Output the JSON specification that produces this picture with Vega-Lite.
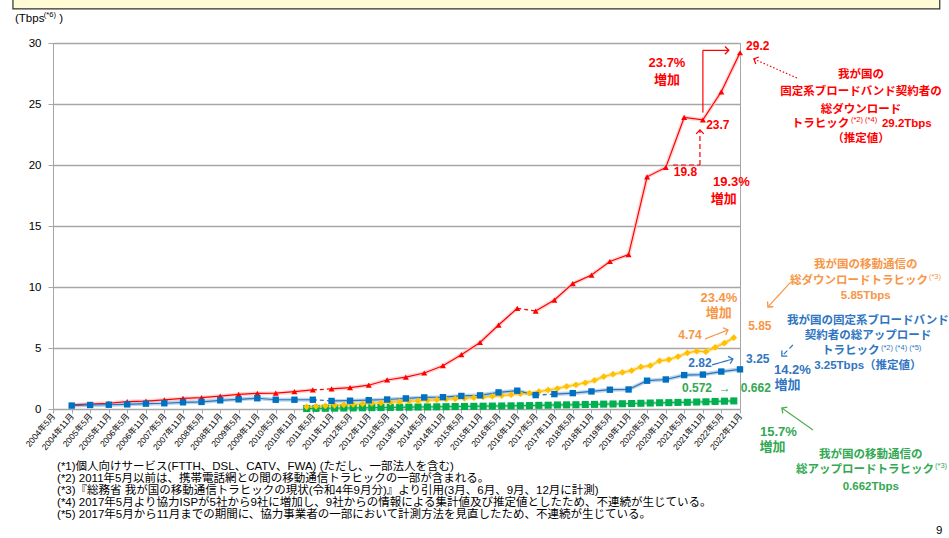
{
"$schema": "https://vega.github.io/schema/vega-lite/v6.json",
"width": 687, "height": 366,
"autosize": {"type": "none"},
"padding": {"left": 53, "top": 43, "right": 209, "bottom": 129},
"background": "#ffffff",
"config": {"font": "Liberation Sans, Noto Sans CJK JP", "view": {"stroke": "#a6a6a6", "strokeWidth": 1}, "axisX": {"labelOverlap": false, "labelFlush": false, "labelBound": false}},
"datasets": {
"traffic": [
{"s":"fd","d":"2004/11/01","v":0.33,"seg":1},{"s":"fd","d":"2005/05/01","v":0.41,"seg":1},{"s":"fd","d":"2005/11/01","v":0.47,"seg":1},{"s":"fd","d":"2006/05/01","v":0.60,"seg":1},{"s":"fd","d":"2006/11/01","v":0.65,"seg":1},{"s":"fd","d":"2007/05/01","v":0.74,"seg":1},{"s":"fd","d":"2007/11/01","v":0.87,"seg":1},{"s":"fd","d":"2008/05/01","v":0.93,"seg":1},{"s":"fd","d":"2008/11/01","v":1.05,"seg":1},{"s":"fd","d":"2009/05/01","v":1.20,"seg":1},{"s":"fd","d":"2009/11/01","v":1.28,"seg":1},{"s":"fd","d":"2010/05/01","v":1.30,"seg":1},{"s":"fd","d":"2010/11/01","v":1.42,"seg":1},{"s":"fd","d":"2011/05/01","v":1.56,"seg":1},
{"s":"fd","d":"2011/11/01","v":1.65,"seg":2},{"s":"fd","d":"2012/05/01","v":1.75,"seg":2},{"s":"fd","d":"2012/11/01","v":1.95,"seg":2},{"s":"fd","d":"2013/05/01","v":2.38,"seg":2},{"s":"fd","d":"2013/11/01","v":2.62,"seg":2},{"s":"fd","d":"2014/05/01","v":2.95,"seg":2},{"s":"fd","d":"2014/11/01","v":3.55,"seg":2},{"s":"fd","d":"2015/05/01","v":4.45,"seg":2},{"s":"fd","d":"2015/11/01","v":5.45,"seg":2},{"s":"fd","d":"2016/05/01","v":6.88,"seg":2},{"s":"fd","d":"2016/11/01","v":8.25,"seg":2},
{"s":"fd","d":"2017/05/01","v":8.03,"seg":3},{"s":"fd","d":"2017/11/01","v":8.93,"seg":3},{"s":"fd","d":"2018/05/01","v":10.28,"seg":3},{"s":"fd","d":"2018/11/01","v":10.98,"seg":3},{"s":"fd","d":"2019/05/01","v":12.09,"seg":3},{"s":"fd","d":"2019/11/01","v":12.65,"seg":3},{"s":"fd","d":"2020/05/01","v":19.03,"seg":3},{"s":"fd","d":"2020/11/01","v":19.8,"seg":3},{"s":"fd","d":"2021/05/01","v":23.9,"seg":3},{"s":"fd","d":"2021/11/01","v":23.7,"seg":3},{"s":"fd","d":"2022/05/01","v":26.0,"seg":3},{"s":"fd","d":"2022/11/01","v":29.2,"seg":3},
{"s":"mu","d":"2011/03/01","v":0.04,"seg":1},{"s":"mu","d":"2011/06/01","v":0.05,"seg":1},{"s":"mu","d":"2011/09/01","v":0.06,"seg":1},{"s":"mu","d":"2011/12/01","v":0.07,"seg":1},{"s":"mu","d":"2012/03/01","v":0.08,"seg":1},{"s":"mu","d":"2012/06/01","v":0.09,"seg":1},{"s":"mu","d":"2012/09/01","v":0.10,"seg":1},{"s":"mu","d":"2012/12/01","v":0.11,"seg":1},{"s":"mu","d":"2013/03/01","v":0.12,"seg":1},{"s":"mu","d":"2013/06/01","v":0.13,"seg":1},{"s":"mu","d":"2013/09/01","v":0.14,"seg":1},{"s":"mu","d":"2013/12/01","v":0.15,"seg":1},{"s":"mu","d":"2014/03/01","v":0.16,"seg":1},{"s":"mu","d":"2014/06/01","v":0.17,"seg":1},{"s":"mu","d":"2014/09/01","v":0.18,"seg":1},{"s":"mu","d":"2014/12/01","v":0.19,"seg":1},{"s":"mu","d":"2015/03/01","v":0.20,"seg":1},{"s":"mu","d":"2015/06/01","v":0.21,"seg":1},{"s":"mu","d":"2015/09/01","v":0.22,"seg":1},{"s":"mu","d":"2015/12/01","v":0.23,"seg":1},{"s":"mu","d":"2016/03/01","v":0.24,"seg":1},{"s":"mu","d":"2016/06/01","v":0.25,"seg":1},{"s":"mu","d":"2016/09/01","v":0.26,"seg":1},{"s":"mu","d":"2016/12/01","v":0.27,"seg":1},{"s":"mu","d":"2017/03/01","v":0.28,"seg":1},{"s":"mu","d":"2017/06/01","v":0.30,"seg":1},{"s":"mu","d":"2017/09/01","v":0.31,"seg":1},{"s":"mu","d":"2017/12/01","v":0.33,"seg":1},{"s":"mu","d":"2018/03/01","v":0.34,"seg":1},{"s":"mu","d":"2018/06/01","v":0.35,"seg":1},{"s":"mu","d":"2018/09/01","v":0.37,"seg":1},{"s":"mu","d":"2018/12/01","v":0.38,"seg":1},{"s":"mu","d":"2019/03/01","v":0.40,"seg":1},{"s":"mu","d":"2019/06/01","v":0.41,"seg":1},{"s":"mu","d":"2019/09/01","v":0.43,"seg":1},{"s":"mu","d":"2019/12/01","v":0.45,"seg":1},{"s":"mu","d":"2020/03/01","v":0.47,"seg":1},{"s":"mu","d":"2020/06/01","v":0.49,"seg":1},{"s":"mu","d":"2020/09/01","v":0.51,"seg":1},{"s":"mu","d":"2020/12/01","v":0.52,"seg":1},{"s":"mu","d":"2021/03/01","v":0.54,"seg":1},{"s":"mu","d":"2021/06/01","v":0.55,"seg":1},{"s":"mu","d":"2021/09/01","v":0.572,"seg":1},{"s":"mu","d":"2021/12/01","v":0.59,"seg":1},{"s":"mu","d":"2022/03/01","v":0.62,"seg":1},{"s":"mu","d":"2022/06/01","v":0.64,"seg":1},{"s":"mu","d":"2022/09/01","v":0.662,"seg":1},
{"s":"md","d":"2011/03/01","v":0.18,"seg":1},{"s":"md","d":"2011/06/01","v":0.21,"seg":1},{"s":"md","d":"2011/09/01","v":0.25,"seg":1},{"s":"md","d":"2011/12/01","v":0.30,"seg":1},{"s":"md","d":"2012/03/01","v":0.33,"seg":1},{"s":"md","d":"2012/06/01","v":0.37,"seg":1},{"s":"md","d":"2012/09/01","v":0.42,"seg":1},{"s":"md","d":"2012/12/01","v":0.47,"seg":1},{"s":"md","d":"2013/03/01","v":0.50,"seg":1},{"s":"md","d":"2013/06/01","v":0.55,"seg":1},{"s":"md","d":"2013/09/01","v":0.60,"seg":1},{"s":"md","d":"2013/12/01","v":0.65,"seg":1},{"s":"md","d":"2014/03/01","v":0.67,"seg":1},{"s":"md","d":"2014/06/01","v":0.71,"seg":1},{"s":"md","d":"2014/09/01","v":0.75,"seg":1},{"s":"md","d":"2014/12/01","v":0.80,"seg":1},{"s":"md","d":"2015/03/01","v":0.83,"seg":1},{"s":"md","d":"2015/06/01","v":0.88,"seg":1},{"s":"md","d":"2015/09/01","v":0.93,"seg":1},{"s":"md","d":"2015/12/01","v":1.00,"seg":1},{"s":"md","d":"2016/03/01","v":1.04,"seg":1},{"s":"md","d":"2016/06/01","v":1.10,"seg":1},{"s":"md","d":"2016/09/01","v":1.17,"seg":1},{"s":"md","d":"2016/12/01","v":1.25,"seg":1},{"s":"md","d":"2017/03/01","v":1.30,"seg":1},{"s":"md","d":"2017/06/01","v":1.42,"seg":1},{"s":"md","d":"2017/09/01","v":1.55,"seg":1},{"s":"md","d":"2017/12/01","v":1.68,"seg":1},{"s":"md","d":"2018/03/01","v":1.85,"seg":1},{"s":"md","d":"2018/06/01","v":1.98,"seg":1},{"s":"md","d":"2018/09/01","v":2.15,"seg":1},{"s":"md","d":"2018/12/01","v":2.35,"seg":1},{"s":"md","d":"2019/03/01","v":2.65,"seg":1},{"s":"md","d":"2019/06/01","v":2.85,"seg":1},{"s":"md","d":"2019/09/01","v":3.00,"seg":1},{"s":"md","d":"2019/12/01","v":3.15,"seg":1},{"s":"md","d":"2020/03/01","v":3.45,"seg":1},{"s":"md","d":"2020/06/01","v":3.55,"seg":1},{"s":"md","d":"2020/09/01","v":3.95,"seg":1},{"s":"md","d":"2020/12/01","v":4.05,"seg":1},{"s":"md","d":"2021/03/01","v":4.30,"seg":1},{"s":"md","d":"2021/06/01","v":4.60,"seg":1},{"s":"md","d":"2021/09/01","v":4.74,"seg":1},{"s":"md","d":"2021/12/01","v":4.70,"seg":1},{"s":"md","d":"2022/03/01","v":5.05,"seg":1},{"s":"md","d":"2022/06/01","v":5.40,"seg":1},{"s":"md","d":"2022/09/01","v":5.85,"seg":1},
{"s":"fu","d":"2004/11/01","v":0.28,"seg":1},{"s":"fu","d":"2005/05/01","v":0.33,"seg":1},{"s":"fu","d":"2005/11/01","v":0.35,"seg":1},{"s":"fu","d":"2006/05/01","v":0.38,"seg":1},{"s":"fu","d":"2006/11/01","v":0.44,"seg":1},{"s":"fu","d":"2007/05/01","v":0.47,"seg":1},{"s":"fu","d":"2007/11/01","v":0.55,"seg":1},{"s":"fu","d":"2008/05/01","v":0.58,"seg":1},{"s":"fu","d":"2008/11/01","v":0.71,"seg":1},{"s":"fu","d":"2009/05/01","v":0.79,"seg":1},{"s":"fu","d":"2009/11/01","v":0.88,"seg":1},{"s":"fu","d":"2010/05/01","v":0.76,"seg":1},{"s":"fu","d":"2010/11/01","v":0.76,"seg":1},{"s":"fu","d":"2011/05/01","v":0.76,"seg":1},
{"s":"fu","d":"2011/11/01","v":0.66,"seg":2},{"s":"fu","d":"2012/05/01","v":0.68,"seg":2},{"s":"fu","d":"2012/11/01","v":0.72,"seg":2},{"s":"fu","d":"2013/05/01","v":0.78,"seg":2},{"s":"fu","d":"2013/11/01","v":0.87,"seg":2},{"s":"fu","d":"2014/05/01","v":0.95,"seg":2},{"s":"fu","d":"2014/11/01","v":0.97,"seg":2},{"s":"fu","d":"2015/05/01","v":1.07,"seg":2},{"s":"fu","d":"2015/11/01","v":1.12,"seg":2},{"s":"fu","d":"2016/05/01","v":1.36,"seg":2},{"s":"fu","d":"2016/11/01","v":1.50,"seg":2},{"s":"fu","d":"2017/05/01","v":1.14,"seg":2},
{"s":"fu","d":"2017/11/01","v":1.22,"seg":3},{"s":"fu","d":"2018/05/01","v":1.30,"seg":3},{"s":"fu","d":"2018/11/01","v":1.44,"seg":3},{"s":"fu","d":"2019/05/01","v":1.58,"seg":3},{"s":"fu","d":"2019/11/01","v":1.60,"seg":3},{"s":"fu","d":"2020/05/01","v":2.32,"seg":3},{"s":"fu","d":"2020/11/01","v":2.42,"seg":3},{"s":"fu","d":"2021/05/01","v":2.78,"seg":3},{"s":"fu","d":"2021/11/01","v":2.82,"seg":3},{"s":"fu","d":"2022/05/01","v":3.07,"seg":3},{"s":"fu","d":"2022/11/01","v":3.25,"seg":3}
],
"banner": [{"d1":"2003/04/03","d2":"2028/03/19","v1":32.79,"v2":35}],
"arrows": [
{"g":"fd","ln":"solid","d1":"2021/11/01","v1":24.3,"d2":"2021/11/01","v2":29.4},
{"g":"fd","ln":"solid","d1":"2021/11/01","v1":29.4,"d2":"2022/07/14","v2":29.4},
{"g":"fd","ln":"dash","d1":"2021/01/11","v1":20.0,"d2":"2021/10/03","v2":20.0},
{"g":"fd","ln":"dash","d1":"2021/10/03","v1":20.0,"d2":"2021/10/03","v2":22.87},
{"g":"fd","ln":"dot","d1":"2024/05/14","v1":27.13,"d2":"2023/03/17","v2":28.69},
{"g":"md","ln":"solid","d1":"2021/11/22","v1":5.74,"d2":"2022/07/05","v2":6.48},
{"g":"md","ln":"solid","d1":"2024/03/06","v1":10.33,"d2":"2023/08/02","v2":8.36},
{"g":"fu","ln":"solid","d1":"2022/01/29","v1":3.61,"d2":"2022/08/23","v2":4.1},
{"g":"fu","ln":"dash","d1":"2024/04/05","v1":5.25,"d2":"2023/12/18","v2":4.34},
{"g":"mu","ln":"solid","d1":"2024/10/19","v1":-1.72,"d2":"2023/12/18","v2":0.08}
],
"heads": [
{"g":"fd","d":"2022/07/14","v":29.4,"ang":0},
{"g":"fd","d":"2021/10/03","v":22.87,"ang":-90},
{"g":"fd","d":"2023/03/17","v":28.69,"ang":203.8},
{"g":"md","d":"2022/07/05","v":6.48,"ang":-21.4},
{"g":"md","d":"2023/08/02","v":8.36,"ang":132.5},
{"g":"fu","d":"2022/08/23","v":4.1,"ang":-16},
{"g":"fu","d":"2023/12/18","v":4.34,"ang":135},
{"g":"mu","d":"2023/12/18","v":0.08,"ang":215.4}
],
"blockLines": [
{"g":"fd","t":"我が国の","d":"2026/02/04","v":27.38},
{"g":"fd","t":"固定系ブロードバンド契約者の","d":"2026/02/04","v":25.98},
{"g":"fd","t":"総ダウンロード","d":"2026/02/04","v":24.51},
{"g":"fd","t":"（推定値）","d":"2026/02/04","v":22.13},
{"g":"md","t":"我が国の移動通信の","d":"2026/03/22","v":11.8},
{"g":"md","t":"5.85Tbps","d":"2026/03/22","v":9.26},
{"g":"fu","t":"我が国の固定系ブロードバンド","d":"2026/04/12","v":7.21},
{"g":"fu","t":"契約者の総アップロード","d":"2026/04/12","v":5.98},
{"g":"fu","t":"3.25Tbps（推定値）","d":"2026/04/12","v":3.52},
{"g":"mu","t":"我が国の移動通信の","d":"2026/05/11","v":-3.77},
{"g":"mu","t":"0.662Tbps","d":"2026/05/11","v":-6.39}
],
"blockPieces": [
{"g":"fd","t":"トラヒック","d":"2024/03/25","v":23.36},
{"g":"fd","t":"29.2Tbps","d":"2026/08/28","v":23.36},
{"g":"md","t":"総ダウンロードトラヒック","d":"2024/03/06","v":10.49},
{"g":"fu","t":"トラヒック","d":"2025/01/16","v":4.75},
{"g":"mu","t":"総アップロードトラヒック","d":"2024/05/04","v":-5.0}
],
"supers": [
{"g":"fd","t":"(*2) (*4)","d":"2025/10/27","v":23.69},
{"g":"md","t":"(*3)","d":"2027/12/03","v":10.82},
{"g":"fu","t":"(*2) (*4) (*5)","d":"2026/08/18","v":5.0},
{"g":"mu","t":"(*3)","d":"2028/02/01","v":-4.67},
{"g":"note","t":"(*6)","d":"2004/02/01","v":32.3}
],
"values": [
{"g":"fd","t":"29.2","d":"2023/04/25","v":29.75},
{"g":"fd","t":"23.7","d":"2022/03/28","v":23.28},
{"g":"fd","t":"19.8","d":"2021/05/13","v":19.43},
{"g":"md","t":"4.74","d":"2021/06/26","v":6.07},
{"g":"md","t":"5.85","d":"2023/05/15","v":6.8},
{"g":"fu","t":"2.82","d":"2021/10/03","v":3.77},
{"g":"fu","t":"3.25","d":"2023/04/25","v":4.1},
{"g":"mu","t":"0.572","d":"2021/09/04","v":1.72},
{"g":"mu","t":"→","d":"2022/06/05","v":1.72},
{"g":"mu","t":"0.662","d":"2023/04/06","v":1.72}
],
"growth": [
{"g":"fd","t":"23.7%","d":"2020/11/13","v":28.36},
{"g":"fd","t":"増加","d":"2020/11/13","v":26.97},
{"g":"fd","t":"19.3%","d":"2022/08/08","v":18.6},
{"g":"fd","t":"増加","d":"2022/05/25","v":17.25},
{"g":"md","t":"23.4%","d":"2022/04/07","v":9.1},
{"g":"md","t":"増加","d":"2022/04/07","v":7.87},
{"g":"fu","t":"14.2%","d":"2024/03/30","v":3.2},
{"g":"fu","t":"増加","d":"2024/02/11","v":1.97},
{"g":"mu","t":"15.7%","d":"2023/11/14","v":-1.9},
{"g":"mu","t":"増加","d":"2023/09/16","v":-3.15}
],
"notes": [
{"t":"(Tbps","d":"2003/04/23","v":31.97},
{"t":")","d":"2004/07/01","v":31.97},
{"t":"(*1)個人向けサービス(FTTH、DSL、CATV、FWA) (ただし、一部法人を含む)","d":"2004/06/10","v":-4.75},
{"t":"(*2) 2011年5月以前は、携帯電話網との間の移動通信トラヒックの一部が含まれる。","d":"2004/06/10","v":-5.74},
{"t":"(*3)『総務省 我が国の移動通信トラヒックの現状(令和4年9月分)』より引用(3月、6月、9月、12月に計測)","d":"2004/06/10","v":-6.72},
{"t":"(*4) 2017年5月より協力ISPが5社から9社に増加し、9社からの情報による集計値及び推定値としたため、不連続が生じている。","d":"2004/06/10","v":-7.70},
{"t":"(*5) 2017年5月から11月までの期間に、協力事業者の一部において計測方法を見直したため、不連続が生じている。","d":"2004/06/10","v":-8.69},
{"t":"9","d":"2028/02/10","v":-10.0}
]
},
"layer": [
{"data":{"name":"traffic"},"mark":{"type":"line","strokeWidth":4,"opacity":0.7},
 "encoding":{
  "x":{"field":"d","type":"temporal","scale":{"domain":[{"year":2004,"month":5,"date":1},{"year":2022,"month":11,"date":1}],"nice":false},
   "axis":{"values":[{"year":2004,"month":5,"date":1},{"year":2004,"month":11,"date":1},{"year":2005,"month":5,"date":1},{"year":2005,"month":11,"date":1},{"year":2006,"month":5,"date":1},{"year":2006,"month":11,"date":1},{"year":2007,"month":5,"date":1},{"year":2007,"month":11,"date":1},{"year":2008,"month":5,"date":1},{"year":2008,"month":11,"date":1},{"year":2009,"month":5,"date":1},{"year":2009,"month":11,"date":1},{"year":2010,"month":5,"date":1},{"year":2010,"month":11,"date":1},{"year":2011,"month":5,"date":1},{"year":2011,"month":11,"date":1},{"year":2012,"month":5,"date":1},{"year":2012,"month":11,"date":1},{"year":2013,"month":5,"date":1},{"year":2013,"month":11,"date":1},{"year":2014,"month":5,"date":1},{"year":2014,"month":11,"date":1},{"year":2015,"month":5,"date":1},{"year":2015,"month":11,"date":1},{"year":2016,"month":5,"date":1},{"year":2016,"month":11,"date":1},{"year":2017,"month":5,"date":1},{"year":2017,"month":11,"date":1},{"year":2018,"month":5,"date":1},{"year":2018,"month":11,"date":1},{"year":2019,"month":5,"date":1},{"year":2019,"month":11,"date":1},{"year":2020,"month":5,"date":1},{"year":2020,"month":11,"date":1},{"year":2021,"month":5,"date":1},{"year":2021,"month":11,"date":1},{"year":2022,"month":5,"date":1},{"year":2022,"month":11,"date":1}],
    "tickCount":100,
    "format":"%Y年%-m月","labelAngle":-50,"labelAlign":"right","labelBaseline":"middle","labelFontSize":8.5,"labelColor":"#000000","labelOverlap":false,"labelFlush":false,"labelBound":false,"tickSize":4,"tickColor":"#a6a6a6","domainColor":"#a6a6a6","grid":false,"title":null,"labelPadding":1}},
  "y":{"field":"v","type":"quantitative","scale":{"domain":[0,30],"nice":false},
   "axis":{"values":[0,5,10,15,20,25,30],"grid":true,"gridColor":"#a6a6a6","gridWidth":1.5,"domainColor":"#a6a6a6","tickColor":"#a6a6a6","tickSize":5,"labelFontSize":11.5,"labelColor":"#000000","labelPadding":7,"title":null}},
  "color":{"field":"s","type":"nominal","scale":{"domain":["fd","fu","md","mu"],"range":["#ffc4c4","#9dc3e6","#ffe08a","#a8dbb5"]},"legend":null},
  "detail":{"field":"seg","type":"nominal"}}},
{"data":{"name":"banner"},"mark":{"type":"rect","fill":"#fffbd5","stroke":"#303030","strokeWidth":1.2},
 "encoding":{"x":{"field":"d1","type":"temporal","axis":{"labelOverlap":false,"title":null}},"x2":{"field":"d2"},
 "y":{"field":"v1","type":"quantitative","axis":{"title":null}},"y2":{"field":"v2"}}},
{"data":{"name":"traffic"},"mark":{"type":"line","strokeWidth":1.2},
 "encoding":{
  "x":{"field":"d","type":"temporal","axis":{"labelOverlap":false,"title":null}},
  "y":{"field":"v","type":"quantitative","axis":{"title":null}},
  "color":{"field":"s","type":"nominal","scale":{"domain":["fd","fu","md","mu"],"range":["#ff0000","#2e75b6","#ffc000","#00b050"]},"legend":null},
  "detail":{"field":"seg","type":"nominal"}}},
{"data":{"name":"traffic"},
 "transform":[{"window":[{"op":"lead","field":"v","as":"v2"},{"op":"lead","field":"d","as":"d2"},{"op":"lead","field":"seg","as":"seg2"}],"groupby":["s"],"sort":[{"field":"d"}]},{"filter":"datum.seg2 != null && datum.seg2 != datum.seg"}],
 "mark":{"type":"rule","strokeDash":[4,3],"strokeWidth":1.3},
 "encoding":{
  "x":{"field":"d","type":"temporal","axis":{"labelOverlap":false,"title":null}},"x2":{"field":"d2"},
  "y":{"field":"v","type":"quantitative","axis":{"title":null}},"y2":{"field":"v2"},
  "color":{"field":"s","type":"nominal","scale":{"domain":["fd","fu","md","mu"],"range":["#ff0000","#2e75b6","#ffc000","#00b050"]},"legend":null}}},
{"data":{"name":"traffic"},"mark":{"type":"point","filled":true,"opacity":1,"strokeWidth":0},
 "encoding":{
  "x":{"field":"d","type":"temporal","axis":{"labelOverlap":false,"title":null}},
  "y":{"field":"v","type":"quantitative","axis":{"title":null}},
  "color":{"field":"s","type":"nominal","scale":{"domain":["fd","fu","md","mu"],"range":["#ff0000","#0070c0","#ffc000","#00b050"]},"legend":null},
  "shape":{"field":"s","type":"nominal","scale":{"domain":["fd","fu","md","mu"],"range":["triangle-up","square","diamond","square"]},"legend":null},
  "size":{"field":"s","type":"nominal","scale":{"domain":["fd","fu","md","mu"],"range":[36,50,36,42]},"legend":null}}},
{"data":{"name":"arrows"},"mark":{"type":"rule","strokeWidth":1.2},
 "encoding":{
  "x":{"field":"d1","type":"temporal","axis":{"labelOverlap":false,"title":null}},"x2":{"field":"d2"},
  "y":{"field":"v1","type":"quantitative","axis":{"title":null}},"y2":{"field":"v2"},
  "color":{"field":"g","type":"nominal","scale":{"domain":["fd","fu","md","mu"],"range":["#ff0000","#2f75c0","#f79646","#4cae4c"]},"legend":null},
  "strokeDash":{"field":"ln","type":"nominal","scale":{"domain":["solid","dash","dot"],"range":[[1,0],[5,3],[1.5,2]]},"legend":null}}},
{"data":{"name":"heads"},"mark":{"type":"point","shape":"M-1,-1L0,0L-1,1","filled":false,"strokeWidth":1.3,"size":60,"opacity":1},
 "encoding":{
  "x":{"field":"d","type":"temporal","axis":{"labelOverlap":false,"title":null}},
  "y":{"field":"v","type":"quantitative","axis":{"title":null}},
  "color":{"field":"g","type":"nominal","scale":{"domain":["fd","fu","md","mu"],"range":["#ff0000","#2f75c0","#f79646","#4cae4c"]},"legend":null},
  "angle":{"field":"ang","type":"quantitative","scale":null}}},
{"data":{"name":"blockLines"},"mark":{"type":"text","align":"center","baseline":"middle","fontSize":11.5,"fontWeight":"bold"},
 "encoding":{
  "x":{"field":"d","type":"temporal","axis":{"labelOverlap":false,"title":null}},
  "y":{"field":"v","type":"quantitative","axis":{"title":null}},
  "text":{"field":"t"},
  "color":{"field":"g","type":"nominal","scale":{"domain":["fd","fu","md","mu","note"],"range":["#ff0000","#2f75c0","#f79646","#33a852","#000000"]},"legend":null}}},
{"data":{"name":"blockPieces"},"mark":{"type":"text","align":"left","baseline":"middle","fontSize":11.5,"fontWeight":"bold"},
 "encoding":{
  "x":{"field":"d","type":"temporal","axis":{"labelOverlap":false,"title":null}},
  "y":{"field":"v","type":"quantitative","axis":{"title":null}},
  "text":{"field":"t"},
  "color":{"field":"g","type":"nominal","scale":{"domain":["fd","fu","md","mu","note"],"range":["#ff0000","#2f75c0","#f79646","#33a852","#000000"]},"legend":null}}},
{"data":{"name":"supers"},"mark":{"type":"text","align":"left","baseline":"middle","fontSize":7.5},
 "encoding":{
  "x":{"field":"d","type":"temporal","axis":{"labelOverlap":false,"title":null}},
  "y":{"field":"v","type":"quantitative","axis":{"title":null}},
  "text":{"field":"t"},
  "color":{"field":"g","type":"nominal","scale":{"domain":["fd","fu","md","mu","note"],"range":["#ff0000","#2f75c0","#f79646","#33a852","#000000"]},"legend":null}}},
{"data":{"name":"values"},"mark":{"type":"text","align":"center","baseline":"middle","fontSize":12,"fontWeight":"bold"},
 "encoding":{
  "x":{"field":"d","type":"temporal","axis":{"labelOverlap":false,"title":null}},
  "y":{"field":"v","type":"quantitative","axis":{"title":null}},
  "text":{"field":"t"},
  "color":{"field":"g","type":"nominal","scale":{"domain":["fd","fu","md","mu","note"],"range":["#ff0000","#2f75c0","#f79646","#33a852","#000000"]},"legend":null}}},
{"data":{"name":"growth"},"mark":{"type":"text","align":"center","baseline":"middle","fontSize":13,"fontWeight":"bold"},
 "encoding":{
  "x":{"field":"d","type":"temporal","axis":{"labelOverlap":false,"title":null}},
  "y":{"field":"v","type":"quantitative","axis":{"title":null}},
  "text":{"field":"t"},
  "color":{"field":"g","type":"nominal","scale":{"domain":["fd","fu","md","mu","note"],"range":["#ff0000","#2f75c0","#f79646","#33a852","#000000"]},"legend":null}}},
{"data":{"name":"notes"},"mark":{"type":"text","align":"left","baseline":"middle","fontSize":11.5,"color":"#000000"},
 "encoding":{
  "x":{"field":"d","type":"temporal","axis":{"labelOverlap":false,"title":null}},
  "y":{"field":"v","type":"quantitative","axis":{"title":null}},
  "text":{"field":"t"}}}
],
"resolve":{"scale":{"color":"independent","shape":"independent","size":"independent","strokeDash":"independent"}}
}
